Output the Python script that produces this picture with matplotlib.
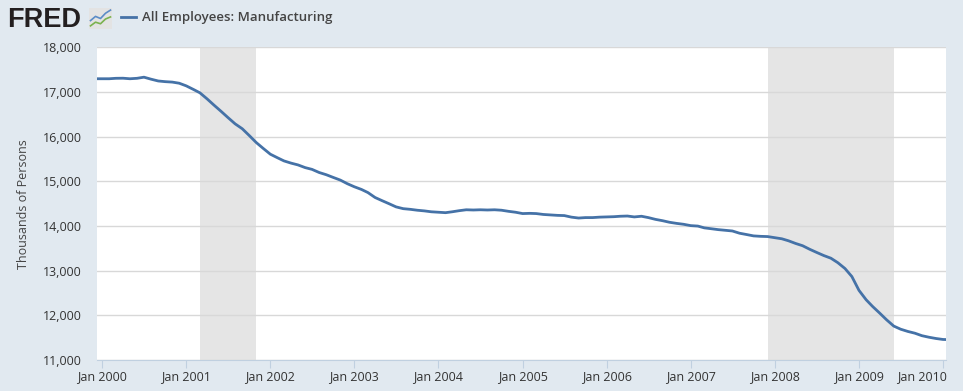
import numpy as np
import pandas as pd
import matplotlib
matplotlib.use('Agg')
import matplotlib.pyplot as plt
import matplotlib.transforms as mtransforms

# All Employees: Manufacturing, thousands, monthly Dec 1999 .. Feb 2010
dates = pd.date_range('1999-12-01', '2010-02-01', freq='MS')
values = [
    17300,
    17300, 17300, 17310, 17312, 17300, 17310, 17335, 17290, 17250, 17235, 17225, 17200,  # 2000
    17140, 17060, 16985, 16850, 16710, 16570, 16430, 16290, 16180, 16030, 15870, 15740,  # 2001
    15610, 15530, 15460, 15410, 15370, 15310, 15270, 15200, 15150, 15090, 15030, 14950,  # 2002
    14880, 14820, 14750, 14640, 14570, 14500, 14430, 14390, 14375, 14355, 14340, 14320,  # 2003
    14310, 14300, 14320, 14345, 14365, 14360, 14365, 14360, 14365, 14355, 14330, 14310,  # 2004
    14280, 14285, 14280, 14260, 14250, 14240, 14235, 14200, 14180, 14190, 14190, 14200,  # 2005
    14205, 14210, 14220, 14225, 14205, 14220, 14190, 14150, 14120, 14085, 14060, 14040,  # 2006
    14010, 14000, 13960, 13940, 13920, 13905, 13890, 13840, 13810, 13780, 13770, 13765,  # 2007
    13740, 13715, 13670, 13610, 13560, 13480, 13410, 13340, 13280, 13180, 13050, 12870,  # 2008
    12560, 12350, 12200, 12050, 11900, 11760, 11690, 11640, 11600, 11545, 11510, 11482,  # 2009
    11460, 11455,  # 2010
]
recessions = [('2001-03-01', '2001-11-01'), ('2007-12-01', '2009-06-01')]
years = list(range(2000, 2011))
yticks = [11000, 12000, 13000, 14000, 15000, 16000, 17000, 18000]

BG = '#e1e9f0'
LINE = '#4572a7'

fig = plt.figure(figsize=(9.63, 3.91), dpi=100, facecolor=BG)
ax = fig.add_axes([97 / 963, 1 - 360 / 391, (946 - 97) / 963, (360 - 47.5) / 391])
ax.set_facecolor('white')

for s, e in recessions:
    ax.axvspan(pd.Timestamp(s), pd.Timestamp(e), color='#e5e5e5', lw=0, zorder=0)

ax.plot(dates, values, color=LINE, lw=2, zorder=3)

ax.set_ylim(11000, 18000)
ax.set_xlim(pd.Timestamp('1999-12-10'), pd.Timestamp('2010-01-14'))
ax.set_yticks(yticks)
ax.set_yticklabels([f'{v:,}' for v in yticks])
ax.yaxis.grid(True, color='#d8d8d8', lw=1)
ax.set_axisbelow(True)

ax.set_xticks([pd.Timestamp(f'{y}-01-01') for y in years])
ax.set_xticklabels([f'Jan {y}' for y in years])

for side in ['left', 'right', 'top']:
    ax.spines[side].set_visible(False)
ax.spines['bottom'].set_color('#c0d0e0')
ax.tick_params(axis='y', length=0, labelsize=9, labelcolor='#333333', pad=11)
ax.tick_params(axis='x', length=6, color='#c0d0e0', labelsize=9, labelcolor='#333333', pad=1)
for lab in ax.get_xticklabels() + ax.get_yticklabels():
    lab.set_family('Open Sans')

# last label kept inside the figure, like the original
last = ax.get_xticklabels()[-1]
last.set_ha('right')
last.set_transform(last.get_transform() + mtransforms.ScaledTranslation(4 / 100, 0, fig.dpi_scale_trans))

ax.set_ylabel('Thousands of Persons', fontsize=9, color='#444444', family='Open Sans', labelpad=9)

# header
fig.text(7 / 963, 1 - 20 / 391, 'FRED', fontsize=19.5, fontweight='bold', color='#231f20',
         va='center', ha='left', family='Liberation Sans')
icon = fig.add_axes([89 / 963, 1 - 29 / 391, 23 / 963, 21 / 391])
icon.set_facecolor('#e3e3e3')
icon.plot([0, 1, 2, 3, 4], [1.6, 2.4, 2.0, 3.0, 3.6], color='#5b8cc7', lw=1.2)
icon.plot([0, 1, 2, 3, 4], [0.6, 1.3, 1.0, 1.9, 2.3], color='#7bb24f', lw=1.2)
icon.set_xlim(-0.3, 4.3)
icon.set_ylim(0, 4)
icon.set_xticks([])
icon.set_yticks([])
for sp in icon.spines.values():
    sp.set_visible(False)

fig.lines.append(plt.Line2D([121 / 963, 136 / 963], [1 - 17 / 391, 1 - 17 / 391],
                            transform=fig.transFigure, color=LINE, lw=2))
fig.text(142 / 963, 1 - 17 / 391, 'All Employees: Manufacturing', fontsize=9.5,
         fontweight='semibold', color='#444444', va='center', ha='left', family='Open Sans')

fig.savefig('out.png', dpi=100, facecolor=BG)
